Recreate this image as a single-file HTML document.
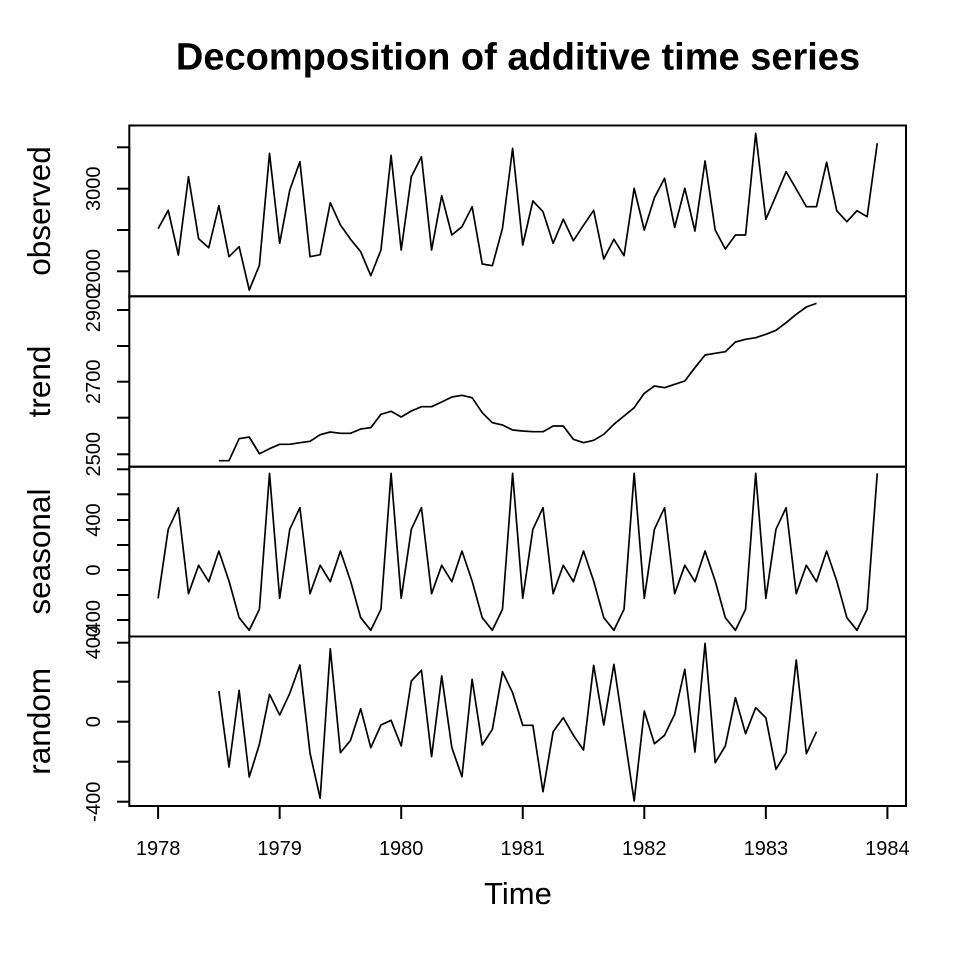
<!DOCTYPE html>
<html>
<head>
<meta charset="utf-8">
<style>
  html, body { margin: 0; padding: 0; background: #ffffff; }
  svg { display: block; }
  text { font-family: "Liberation Sans", Arial, sans-serif; fill: #000; }
</style>
</head>
<body>
<svg width="960" height="960" viewBox="0 0 960 960" xmlns="http://www.w3.org/2000/svg">
  <rect x="0" y="0" width="960" height="960" fill="#ffffff"/>

  <!-- Title -->
  <text x="518" y="69.5" font-size="38" font-weight="bold" text-anchor="middle">Decomposition of additive time series</text>

  <!-- Panel frames -->
  <g fill="none" stroke="#000" stroke-width="2">
    <rect x="129.3" y="125.5" width="776.7" height="170.8"/>
    <rect x="129.3" y="296.3" width="776.7" height="170.4"/>
    <rect x="129.3" y="466.7" width="776.7" height="169.8"/>
    <rect x="129.3" y="636.5" width="776.7" height="169.5"/>
  </g>

  <!-- Y-axis ticks -->
  <g stroke="#000" stroke-width="2">
    <!-- observed -->
    <line x1="117" y1="147.3" x2="129.3" y2="147.3"/>
    <line x1="117" y1="188.7" x2="129.3" y2="188.7"/>
    <line x1="117" y1="230" x2="129.3" y2="230"/>
    <line x1="117" y1="271.3" x2="129.3" y2="271.3"/>
    <line x1="129.3" y1="147.3" x2="129.3" y2="271.3"/>
    <!-- trend -->
    <line x1="117" y1="310" x2="129.3" y2="310"/>
    <line x1="117" y1="346" x2="129.3" y2="346"/>
    <line x1="117" y1="381.7" x2="129.3" y2="381.7"/>
    <line x1="117" y1="417.7" x2="129.3" y2="417.7"/>
    <line x1="117" y1="454.3" x2="129.3" y2="454.3"/>
    <!-- seasonal -->
    <line x1="117" y1="469.3" x2="129.3" y2="469.3"/>
    <line x1="117" y1="494.3" x2="129.3" y2="494.3"/>
    <line x1="117" y1="520" x2="129.3" y2="520"/>
    <line x1="117" y1="545" x2="129.3" y2="545"/>
    <line x1="117" y1="570" x2="129.3" y2="570"/>
    <line x1="117" y1="595" x2="129.3" y2="595"/>
    <line x1="117" y1="620" x2="129.3" y2="620"/>
    <!-- random -->
    <line x1="117" y1="642.7" x2="129.3" y2="642.7"/>
    <line x1="117" y1="681.7" x2="129.3" y2="681.7"/>
    <line x1="117" y1="721.7" x2="129.3" y2="721.7"/>
    <line x1="117" y1="761.7" x2="129.3" y2="761.7"/>
    <line x1="117" y1="801.7" x2="129.3" y2="801.7"/>
  </g>

  <!-- Y tick labels (rotated) -->
  <g font-size="20" text-anchor="middle">
    <text transform="translate(100,188.7) rotate(-90)">3000</text>
    <text transform="translate(100,271.3) rotate(-90)">2000</text>
    <text transform="translate(100,310) rotate(-90)">2900</text>
    <text transform="translate(100,381.7) rotate(-90)">2700</text>
    <text transform="translate(100,454.3) rotate(-90)">2500</text>
    <text transform="translate(100,520) rotate(-90)">400</text>
    <text transform="translate(100,570) rotate(-90)">0</text>
    <text transform="translate(100,620) rotate(-90)">-400</text>
    <text transform="translate(100,642.7) rotate(-90)">400</text>
    <text transform="translate(100,721.7) rotate(-90)">0</text>
    <text transform="translate(100,801.7) rotate(-90)">-400</text>
  </g>

  <!-- Panel labels -->
  <g font-size="31.5" text-anchor="middle">
    <text transform="translate(50,211) rotate(-90)">observed</text>
    <text transform="translate(50,381.5) rotate(-90)">trend</text>
    <text transform="translate(50,551.6) rotate(-90)">seasonal</text>
    <text transform="translate(50,721.3) rotate(-90)">random</text>
  </g>

  <!-- X axis -->
  <g stroke="#000" stroke-width="2">
    <line x1="158.1" y1="806" x2="887.4" y2="806"/>
    <line x1="158.1" y1="806" x2="158.1" y2="819"/>
    <line x1="279.65" y1="806" x2="279.65" y2="819"/>
    <line x1="401.2" y1="806" x2="401.2" y2="819"/>
    <line x1="522.75" y1="806" x2="522.75" y2="819"/>
    <line x1="644.3" y1="806" x2="644.3" y2="819"/>
    <line x1="765.85" y1="806" x2="765.85" y2="819"/>
    <line x1="887.4" y1="806" x2="887.4" y2="819"/>
  </g>
  <g font-size="20" text-anchor="middle">
    <text x="158.1" y="855">1978</text>
    <text x="279.65" y="855">1979</text>
    <text x="401.2" y="855">1980</text>
    <text x="522.75" y="855">1981</text>
    <text x="644.3" y="855">1982</text>
    <text x="765.85" y="855">1983</text>
    <text x="887.4" y="855">1984</text>
  </g>
  <text x="518" y="904" font-size="31" text-anchor="middle">Time</text>

  <!-- Series -->
  <g fill="none" stroke="#000" stroke-width="1.7" stroke-linejoin="round">
    <!-- observed -->
    <polyline points="158.1,228.7 168.23,210.3 178.36,255 188.49,176.7 198.62,238.7 208.75,247.7 218.87,205.7 229.0,256.7 239.13,246.7 249.26,290 259.39,265.3 269.52,153.3 279.65,243.3 289.78,190 299.91,161.7 310.04,256.7 320.16,254.7 330.29,202.7 340.42,225 350.55,239.3 360.68,251.7 370.81,275.7 380.94,250 391.07,155.3 401.2,250 411.33,176.7 421.45,156.7 431.58,250 441.71,195.7 451.84,235 461.97,226.7 472.1,206.7 482.23,264 492.36,265.7 502.49,228.3 512.62,148.3 522.74,245 532.87,201 543.0,211.7 553.13,243.3 563.26,219.3 573.39,240.7 583.52,225.3 593.65,210.3 603.78,259 613.91,239.3 624.03,255.7 634.16,188.3 644.29,230 654.42,197.7 664.55,178.3 674.68,227.3 684.81,188.3 694.94,231 705.07,161 715.2,230 725.32,249 735.45,235 745.58,235 755.71,133.3 765.84,219.3 775.97,195.7 786.1,171.7 796.23,189 806.36,206.7 816.49,206.7 826.61,162.3 836.74,210.7 846.87,221.7 857.0,210.7 867.13,216.7 877.26,143.3"/>
    <!-- trend -->
    <polyline points="218.87,460.7 229.0,460.7 239.13,438.7 249.26,437 259.39,453.7 269.52,448.7 279.65,444.3 289.78,444.3 299.91,442.7 310.04,441.3 320.16,434.7 330.29,432 340.42,433.3 350.55,433.3 360.68,429 370.81,427.7 380.94,414.3 391.07,411.3 401.2,417 411.33,411 421.45,406.7 431.58,406.7 441.71,402 451.84,397 461.97,395.3 472.1,397.7 482.23,412.7 492.36,422.7 502.49,425 512.62,430 522.74,431 532.87,431.7 543.0,431.7 553.13,426 563.26,426 573.39,439.3 583.52,442.7 593.65,440.3 603.78,434.3 613.91,424.3 624.03,416 634.16,407.7 644.29,393.3 654.42,386 664.55,387.7 674.68,384.3 684.81,381 694.94,367.7 705.07,355 715.2,353.3 725.32,351.7 735.45,342 745.58,339.3 755.71,337.7 765.84,334.3 775.97,330.3 786.1,322.7 796.23,314.3 806.36,307 816.49,303.3"/>
    <!-- seasonal -->
    <polyline points="158.1,598.3 168.23,529.3 178.36,507.7 188.49,593.7 198.62,565.3 208.75,581.7 218.87,551 229.0,581 239.13,617.7 249.26,630.3 259.39,609.3 269.52,473.3 279.65,598.3 289.78,529.3 299.91,507.7 310.04,593.7 320.16,565.3 330.29,581.7 340.42,551 350.55,581 360.68,617.7 370.81,630.3 380.94,609.3 391.07,473.3 401.2,598.3 411.33,529.3 421.45,507.7 431.58,593.7 441.71,565.3 451.84,581.7 461.97,551 472.1,581 482.23,617.7 492.36,630.3 502.49,609.3 512.62,473.3 522.74,598.3 532.87,529.3 543.0,507.7 553.13,593.7 563.26,565.3 573.39,581.7 583.52,551 593.65,581 603.78,617.7 613.91,630.3 624.03,609.3 634.16,473.3 644.29,598.3 654.42,529.3 664.55,507.7 674.68,593.7 684.81,565.3 694.94,581.7 705.07,551 715.2,581 725.32,617.7 735.45,630.3 745.58,609.3 755.71,473.3 765.84,598.3 775.97,529.3 786.1,507.7 796.23,593.7 806.36,565.3 816.49,581.7 826.61,551 836.74,581 846.87,617.7 857.0,630.3 867.13,609.3 877.26,473.3"/>
    <!-- random -->
    <polyline points="218.87,691 229.0,767 239.13,690.3 249.26,777 259.39,744.3 269.52,694.3 279.65,715 289.78,693.3 299.91,665 310.04,753.3 320.16,798.3 330.29,648.7 340.42,752.7 350.55,740.3 360.68,708.7 370.81,747.7 380.94,725 391.07,720.3 401.2,746 411.33,681 421.45,670.3 431.58,756.7 441.71,676 451.84,747.7 461.97,776.7 472.1,679.3 482.23,745 492.36,729.3 502.49,671.7 512.62,692.7 522.74,725.3 532.87,725.3 543.0,791.7 553.13,731.7 563.26,717.7 573.39,735.3 583.52,750 593.65,665.3 603.78,725 613.91,664.3 624.03,732.7 634.16,801 644.29,711 654.42,743.7 664.55,735.3 674.68,714.3 684.81,669.3 694.94,752 705.07,643.3 715.2,762.7 725.32,746 735.45,697.7 745.58,733.7 755.71,707.7 765.84,717.7 775.97,769.3 786.1,752.7 796.23,660 806.36,753.7 816.49,731.7"/>
  </g>
</svg>
</body>
</html>
